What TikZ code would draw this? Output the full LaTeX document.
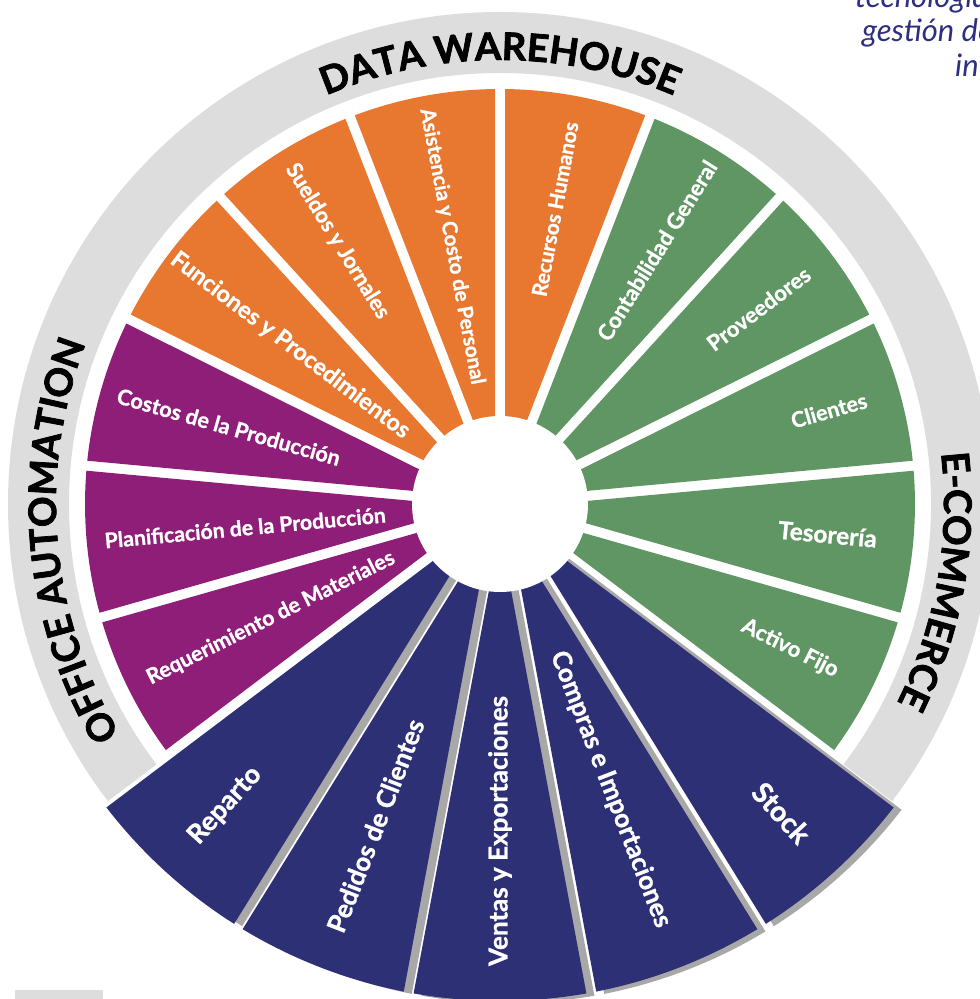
\documentclass[tikz,border=0pt]{standalone}
\usepackage{fontspec}
\usepackage{graphicx}
\usetikzlibrary{decorations.text}
\newfontfamily\latofam{Lato}
\newfontfamily\heavyfam{Lato}[BoldFeatures={FakeBold=2}]
\newfontfamily\lblfam{Lato}[BoldFeatures={FakeBold=1}]
\definecolor{orangeseg}{HTML}{E87730}
\definecolor{greenseg}{HTML}{5F9664}
\definecolor{purpleseg}{HTML}{8E1E78}
\definecolor{blueseg}{HTML}{2E3076}
\definecolor{ringgrey}{HTML}{DDDDDD}
\definecolor{shadowgrey}{HTML}{A8A8A8}
\definecolor{textblue}{HTML}{2D2F80}
\newcommand{\titlefont}{\heavyfam\bfseries\fontsize{38pt}{40pt}\selectfont}
% wedge with parallel-sided gaps: #1 start angle (larger), #2 end angle, #3 inner r, #4 outer r, #5 options
\newcommand{\segpath}[5]{%
  \pgfmathsetmacro{\aI}{#1-asin(5/#3)}%
  \pgfmathsetmacro{\aO}{#1-asin(5/#4)}%
  \pgfmathsetmacro{\bO}{#2+asin(5/#4)}%
  \pgfmathsetmacro{\bI}{#2+asin(5/#3)}%
  \path[#5] (\aI:#3pt) -- (\aO:#4pt) arc[start angle=\aO, end angle=\bO, radius=#4pt]
    -- (\bI:#3pt) arc[start angle=\bI, end angle=\aI, radius=#3pt] -- cycle;%
}
% label set at the font size that gives it width #1 (pt)
\newlength\lblw
\newcommand{\fitlbl}[2]{%
  \settowidth{\lblw}{\lblfam\bfseries\fontsize{20pt}{22pt}\selectfont #2}%
  \pgfmathsetmacro{\lblfs}{20*#1/\lblw}%
  {\lblfam\bfseries\fontsize{\lblfs pt}{\lblfs pt}\selectfont #2}}
\begin{document}
\begin{tikzpicture}[x=1pt,y=1pt,
  lbl/.style={text=white, inner sep=0pt},
  topnote/.style={anchor=base west, inner sep=0pt, text=textblue, font=\latofam\itshape\fontsize{31pt}{34pt}\selectfont}]
\useasboundingbox (0,0) rectangle (980,999);
\clip (0,0) rectangle (980,999);
\fill[ringgrey] (15,0) rectangle (103,9);
\begin{scope}[shift={(500,495)}]
  % grey ring
  \fill[ringgrey, even odd rule] (0,0) circle[radius=492pt] (0,0) circle[radius=431pt];
  % orange
  \segpath{90}{68.824}{60}{415}{fill=orangeseg}
  \segpath{-206.471}{-227.647}{60}{415}{fill=orangeseg}
  \segpath{-227.647}{-248.824}{60}{415}{fill=orangeseg}
  \segpath{-248.824}{-270}{60}{415}{fill=orangeseg}
  % green
  \segpath{68.824}{47.647}{60}{415}{fill=greenseg}
  \segpath{47.647}{26.471}{60}{415}{fill=greenseg}
  \segpath{26.471}{5.294}{60}{415}{fill=greenseg}
  \segpath{5.294}{-15.882}{60}{415}{fill=greenseg}
  \segpath{-15.882}{-37.059}{60}{415}{fill=greenseg}
  % purple
  \segpath{-142.941}{-164.118}{60}{415}{fill=purpleseg}
  \segpath{-164.118}{-185.294}{60}{415}{fill=purpleseg}
  \segpath{-185.294}{-206.471}{60}{415}{fill=purpleseg}
  % blue: white halos
  \segpath{-37.059}{-58.235}{60}{497}{draw=white, line width=8pt}
  \segpath{-58.235}{-79.412}{60}{497}{draw=white, line width=8pt}
  \segpath{-79.412}{-100.588}{60}{497}{draw=white, line width=8pt}
  \segpath{-100.588}{-121.765}{60}{497}{draw=white, line width=8pt}
  \segpath{-121.765}{-142.941}{60}{497}{draw=white, line width=8pt}
  % blue: shadows
  \segpath{-37.059}{-58.235}{60}{497}{fill=shadowgrey, shift={(8pt,-2.3pt)}}
  \segpath{-58.235}{-79.412}{60}{497}{fill=shadowgrey, shift={(8pt,-2.3pt)}}
  \segpath{-79.412}{-100.588}{60}{497}{fill=shadowgrey, shift={(8pt,-2.3pt)}}
  \segpath{-100.588}{-121.765}{60}{497}{fill=shadowgrey, shift={(8pt,-2.3pt)}}
  \segpath{-121.765}{-142.941}{60}{497}{fill=shadowgrey, shift={(8pt,-2.3pt)}}
  % blue: fills
  \segpath{-37.059}{-58.235}{60}{497}{fill=blueseg}
  \segpath{-58.235}{-79.412}{60}{497}{fill=blueseg}
  \segpath{-79.412}{-100.588}{60}{497}{fill=blueseg}
  \segpath{-100.588}{-121.765}{60}{497}{fill=blueseg}
  \segpath{-121.765}{-142.941}{60}{497}{fill=blueseg}
  % inner white circle
  \fill[white] (0,0) circle[radius=88pt];
  % labels
  \node (lRH) [lbl, rotate=79.41] at (79.41:300pt) {\fitlbl{177}{Recursos Humanos}};
  \node (lCG) [lbl, rotate=58.24] at (58.24:298pt) {\fitlbl{207}{Contabilidad General}};
  \node (lPR) [lbl, rotate=37.06] at (37.06:324pt) {\fitlbl{123}{Proveedores}};
  \node (lCL) [lbl, rotate=15.88] at (15.88:342pt) {\fitlbl{78}{Clientes}};
  \node (lTE) [lbl, rotate=-5.29] at (-5.29:329pt) {\fitlbl{99}{Tesorería}};
  \node (lAF) [lbl, rotate=-26.47] at (-26.47:324pt) {\fitlbl{105}{Activo Fijo}};
  \node (lST) [lbl, rotate=-47.65] at (-47.65:418pt) {\fitlbl{71}{Stock}};
  \node (lCO) [lbl, rotate=-68.82] at (-68.82:306pt) {\fitlbl{294}{Compras e Importaciones}};
  \node (lVE) [lbl, rotate=90] at (-90:327pt) {\fitlbl{270}{Ventas y Exportaciones}};
  \node (lPE) [lbl, rotate=68.82] at (-111.18:345pt) {\fitlbl{226}{Pedidos de Clientes}};
  \node (lRE) [lbl, rotate=47.65] at (-132.35:408pt) {\fitlbl{95}{Reparto}};
  \node (lRQ) [lbl, rotate=26.47] at (-153.53:256pt) {\fitlbl{274}{Requerimiento de Materiales}};
  \node (lPL) [lbl, rotate=5.29] at (-174.71:256pt) {\fitlbl{282}{Planificación de la Producción}};
  \node (lCP) [lbl, rotate=-15.88] at (164.12:282pt) {\fitlbl{231}{Costos de la Producción}};
  \node (lFP) [lbl, rotate=-37.06] at (142.94:263pt) {\fitlbl{293}{Funciones y Procedimientos}};
  \node (lSJ) [lbl, rotate=-58.24] at (121.76:309pt) {\fitlbl{178}{Sueldos y Jornales}};
  \node (lAC) [lbl, rotate=-79.41] at (100.59:262pt) {\fitlbl{280}{Asistencia y Costo de Personal}};
  % ring titles
  \path[decorate, decoration={text along path, text={|\titlefont|DATA WAREHOUSE}, text align=center}]
    (140:444pt) arc[start angle=140, end angle=40, radius=444pt];
  \path[decorate, decoration={text along path, text={|\titlefont|OFFICE AUTOMATION}, text align=center}]
    (230:444pt) arc[start angle=230, end angle=140, radius=444pt];
  \path[decorate, decoration={text along path, text={|\titlefont|E-COMMERCE}, text align=center}]
    (20:444pt) arc[start angle=20, end angle=-40, radius=444pt];
\end{scope}
% top-right note (cut by the picture edge)
\node (n1) [topnote] at (855,991) {tecnología};
\node (n2) [topnote] at (862,957) {gestión de};
\node (n3) [topnote] at (955,922) {información};
\end{tikzpicture}
\end{document}
